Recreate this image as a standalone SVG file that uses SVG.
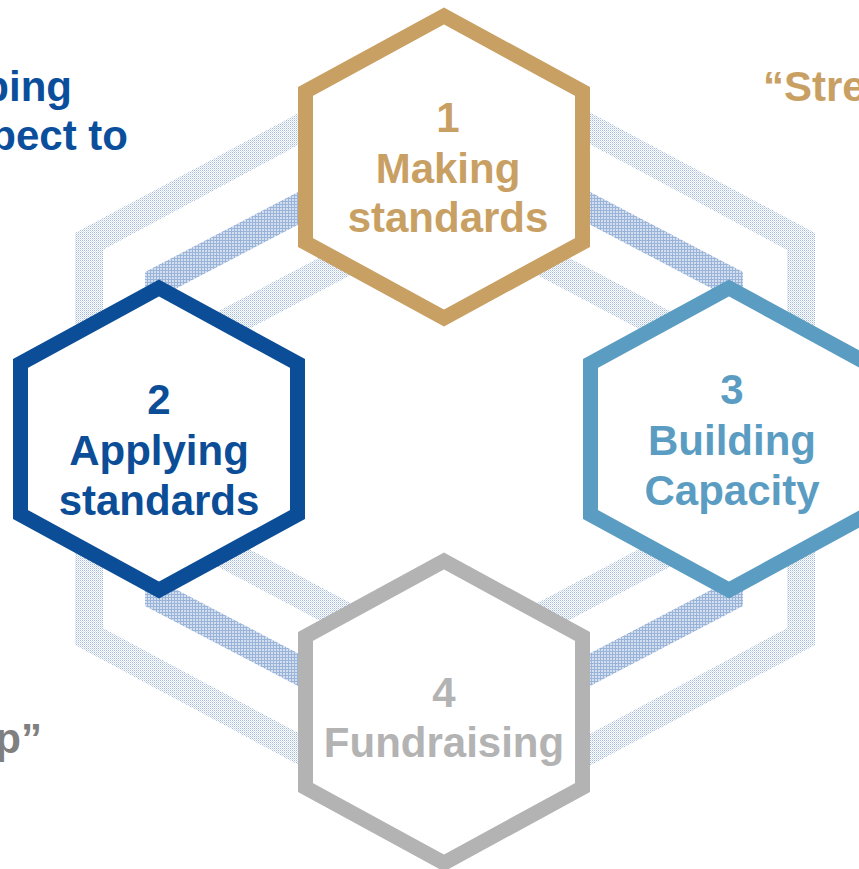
<svg xmlns="http://www.w3.org/2000/svg" width="859" height="869" viewBox="0 0 859 869">
  <defs>
    <pattern id="pLight" width="2" height="2" patternUnits="userSpaceOnUse">
      <rect width="2" height="2" fill="#ffffff"/>
      <rect width="1" height="1" fill="#A6BCDD"/>
      <rect x="1" y="1" width="1" height="1" fill="#D2DDEE"/>
    </pattern>
    <pattern id="pDense" width="3" height="3" patternUnits="userSpaceOnUse">
      <rect width="3" height="3" fill="#D3DEEF"/>
      <rect width="3" height="1" fill="#9AB3D9"/>
      <rect width="1" height="3" fill="#9AB3D9"/>
    </pattern>
  </defs>
  <style>
    .band { fill: none; stroke-linejoin: miter; }
    .hex { fill: #ffffff; stroke-width: 15; stroke-linejoin: miter; }
    .t { font-family: "Liberation Sans", Arial, sans-serif; font-weight: bold; font-size: 42px; text-anchor: middle; }
    .side { font-family: "Liberation Sans", Arial, sans-serif; font-weight: bold; font-size: 42px; }
  </style>
  <rect width="859" height="869" fill="#ffffff"/>

  <g id="bands">
    <polygon class="band" stroke="url(#pLight)" stroke-width="28" points="445,50.6 801,241.4 801,636.6 445,827.4 89,636.6 89,241.4"/>
    <polygon class="band" stroke="url(#pDense)" stroke-width="29" points="444,132 728.5,280.8 728.5,597.2 444,746 159.5,597.2 159.5,280.8"/>
    <polygon class="band" stroke="url(#pLight)" stroke-width="30" points="444,208.5 657,321.4 657,556.6 444,669.5 231,556.6 231,321.4"/>
  </g>

  <g id="side-texts">
    <text class="side" x="72" y="101" text-anchor="end" fill="#0B4F9C">ping</text>
    <text class="side" x="128" y="150" text-anchor="end" fill="#0B4F9C">pect to</text>
    <text class="side" x="763" y="101" fill="#C9A063">“Stre</text>
    <text class="side" x="42" y="753" text-anchor="end" fill="#808080">p”</text>
  </g>

  <g id="hex1">
    <polygon class="hex" stroke="#C9A063" points="444,16 582.5,91.5 582.5,242.5 444,318 305.5,242.5 305.5,91.5"/>
    <text class="t" fill="#C9A063" x="448" y="132">1</text>
    <text class="t" fill="#C9A063" x="448" y="183">Making</text>
    <text class="t" fill="#C9A063" x="448" y="232">standards</text>
  </g>

  <g id="hex2">
    <polygon class="hex" stroke="#0B4D96" points="159,288 297.5,363.5 297.5,514.5 159,590 20.5,514.5 20.5,363.5"/>
    <text class="t" fill="#0B4D96" x="159" y="413.5">2</text>
    <text class="t" fill="#0B4D96" x="159" y="465">Applying</text>
    <text class="t" fill="#0B4D96" x="159" y="515">standards</text>
  </g>

  <g id="hex3">
    <polygon class="hex" stroke="#5B9DC2" points="729,288 867.5,363.5 867.5,514.5 729,590 590.5,514.5 590.5,363.5"/>
    <text class="t" fill="#5B9DC2" x="732" y="403.5">3</text>
    <text class="t" fill="#5B9DC2" x="732" y="455">Building</text>
    <text class="t" fill="#5B9DC2" x="732" y="505">Capacity</text>
  </g>

  <g id="hex4">
    <polygon class="hex" stroke="#B3B3B3" points="444,561 582.5,636.5 582.5,787.5 444,863 305.5,787.5 305.5,636.5"/>
    <text class="t" fill="#B3B3B3" x="444" y="706.5">4</text>
    <text class="t" fill="#B3B3B3" x="444" y="756.5">Fundraising</text>
  </g>
</svg>
